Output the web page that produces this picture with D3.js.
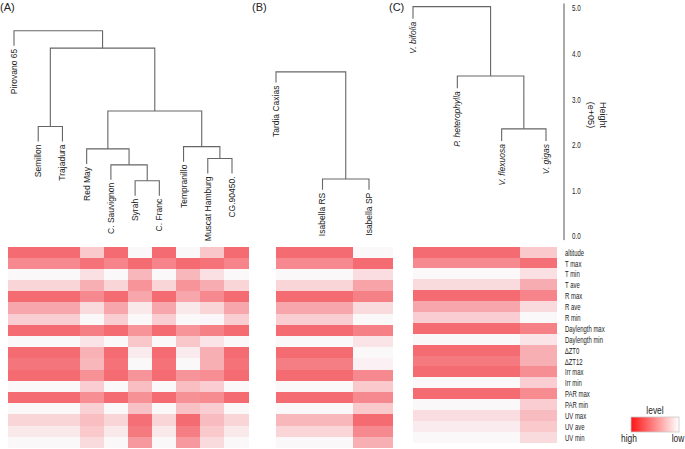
<!DOCTYPE html>
<html><head><meta charset="utf-8">
<script src="https://cdn.jsdelivr.net/npm/d3@7"></script>
<style>
html,body{margin:0;padding:0;background:#fff;}
svg{display:block;}
text{font-family:"Liberation Sans",Arial,sans-serif;fill:#222;}
</style></head>
<body>
<svg id="chart" width="685" height="449"></svg>
<script>
// ---------- DATA ----------
const rowLabels = ["altitude","T max","T min","T ave","R max","R ave","R min","Daylength max","Daylength min","\u2206ZT0","\u2206ZT12","Irr max","Irr min","PAR max","PAR min","UV max","UV ave","UV min"];

// Panel A dendrogram (hclust style: negative = leaf index, positive = earlier merge)
const leavesA = ["Pirovano  65","Semillon","Trajadura","Red May","C. Sauvignon","Syrah","C. Franc","Tempranillo","Muscat Hamburg","CG.90450."];
const mergeA = [[-6,-7],[-5,1],[-9,-10],[-4,2],[-8,3],[-2,-3],[4,5],[6,7],[-1,8]];
const heightA = [1.21,1.56,1.70,1.91,1.96,2.40,2.74,4.12,4.50];

const leavesB = ["Tardia  Caxias","Isabella RS","Isabella SP"];
const mergeB = [[-2,-3],[-1,1]];
const heightB = [1.25,3.60];

const leavesC = ["V. bifolia","P. heterophylla","V. flexuosa","V. gigas"];
const mergeC = [[-3,-4],[-2,1],[-1,2]];
const heightC = [2.35,3.51,5.03];

const heightTicks = [0,1,2,3,4,5];

// heat levels (1 = high, 0 = low), one row per variable, one value per cultivar
const heatA = [
 [.95,.95,.95,.33,.95,.02,.95,.02,.35,.95],
 [.75,.75,.75,.90,.78,.95,.78,.95,.90,.78],
 [.02,.02,.02,.18,.02,.45,.02,.45,.18,.02],
 [.25,.25,.25,.50,.25,.68,.25,.68,.52,.25],
 [.95,.95,.95,.75,.95,.55,.95,.55,.75,.95],
 [.55,.55,.55,.22,.55,.12,.55,.12,.25,.55],
 [.30,.30,.30,.02,.30,.02,.30,.02,.03,.30],
 [.95,.95,.95,.82,.95,.68,.95,.68,.80,.95],
 [.02,.02,.02,.15,.02,.35,.02,.35,.15,.02],
 [.95,.95,.95,.48,.95,.10,.95,.10,.50,.95],
 [.88,.88,.88,.45,.90,.02,.90,.02,.50,.90],
 [.95,.95,.95,.70,.95,.68,.95,.68,.72,.95],
 [.02,.02,.02,.30,.02,.40,.02,.40,.30,.02],
 [.95,.95,.95,.72,.95,.70,.95,.70,.74,.95],
 [.02,.02,.02,.28,.02,.38,.02,.38,.30,.02],
 [.25,.25,.25,.40,.25,.92,.25,.95,.42,.25],
 [.12,.12,.12,.33,.12,.85,.12,.82,.33,.12],
 [.02,.02,.02,.22,.02,.65,.02,.65,.22,.02]
];
const heatB = [
 [.95,.95,.02],[.75,.75,.95],[.02,.02,.20],[.25,.25,.58],[.95,.95,.80],[.55,.55,.22],
 [.30,.30,.02],[.95,.95,.80],[.02,.02,.15],[.95,.95,.02],[.82,.82,.07],[.95,.95,.75],
 [.02,.02,.33],[.95,.95,.75],[.02,.02,.33],[.45,.45,.95],[.25,.25,.75],[.02,.02,.50]
];
const heatC = [
 [.95,.95,.95,.33],[.75,.75,.75,.92],[.02,.02,.02,.18],[.22,.22,.22,.52],[.95,.95,.95,.78],[.55,.55,.55,.22],
 [.30,.30,.30,.02],[.95,.95,.95,.80],[.02,.02,.02,.15],[.95,.95,.95,.50],[.85,.85,.85,.50],[.95,.95,.95,.72],
 [.02,.02,.02,.30],[.95,.95,.95,.74],[.02,.02,.02,.30],[.20,.20,.20,.42],[.10,.10,.10,.33],[.02,.02,.02,.22]
];

// ---------- DRAW ----------
const svg = d3.select("#chart");
const y = d3.scaleLinear().domain([0,5]).range([236,8]);
const heat = d3.scaleLinear().domain([0,1]).range(["#fbfbfd","#f4636a"]).interpolate(d3.interpolateRgb);
const SX = 0.7; // horizontal squeeze of horizontal text

function dendro(leaves, merge, heights, x0, x1, italic){
  const xs = d3.scalePoint().domain(leaves).range([x0,x1]);
  const hang = 0.1*(d3.max(heights)-d3.min(heights));
  const g = svg.append("g");
  const pos = [];
  const childInfo = (c, parentH) => c < 0
      ? {x: xs(leaves[-c-1]), top: parentH - hang, leaf: -c-1}
      : {x: pos[c-1].x, top: pos[c-1].h};
  const lines = [];
  const leafEnds = [];
  merge.forEach((m,i) => {
    const h = heights[i];
    const a = childInfo(m[0],h), b = childInfo(m[1],h);
    pos.push({x:(a.x+b.x)/2, h});
    lines.push([[a.x,y(a.top)],[a.x,y(h)],[b.x,y(h)],[b.x,y(b.top)]]);
    [a,b].forEach(c => { if (c.leaf !== undefined) leafEnds.push(c); });
  });
  g.selectAll("path").data(lines).join("path")
    .attr("d", d3.line())
    .attr("fill","none").attr("stroke","#666").attr("stroke-width",1.1);
  g.selectAll("text").data(leafEnds).join("text")
    .attr("transform", d => `translate(${d.x},${y(d.top)+3}) rotate(-90)`)
    .attr("text-anchor","end").attr("dy","0.35em")
    .style("font-size","8.5px")
    .style("font-style", italic ? "italic" : "normal")
    .text(d => leaves[d.leaf]);
}
dendro(leavesA, mergeA, heightA, 14, 232, false);
dendro(leavesB, mergeB, heightB, 276, 369, false);
dendro(leavesC, mergeC, heightC, 413, 546, true);

// heatmaps
function heatmap(data, leaves, x0, x1, y0, y1){
  const xb = d3.scaleBand().domain(leaves).range([x0,x1]);
  const yb = d3.scaleBand().domain(rowLabels).range([y0,y1]);
  const g = svg.append("g").attr("shape-rendering","crispEdges");
  data.forEach((row,ri) => {
    g.selectAll(null).data(row).join("rect")
      .attr("x",(d,ci)=>xb(leaves[ci])).attr("y",yb(rowLabels[ri]))
      .attr("width",xb.bandwidth()+0.5).attr("height",yb.bandwidth())
      .attr("fill",d=>heat(d));
  });
  return yb;
}
heatmap(heatA, leavesA, 8, 248, 246.5, 448);
heatmap(heatB, leavesB, 276, 392, 246.5, 448);
const ybC = heatmap(heatC, leavesC, 413, 556, 246.7, 442.7);

// row labels
svg.append("g").selectAll("text").data(rowLabels).join("text")
  .attr("transform", d => `translate(565,${ybC(d)+ybC.bandwidth()/2+0.5}) scale(${SX},1)`)
  .attr("dy","0.35em").style("font-size","8.5px").text(d=>d);

// height axis
const axisG = svg.append("g").attr("transform","translate(564,0)")
  .call(d3.axisRight(y).tickValues(heightTicks).tickFormat(d3.format(".1f")).tickSize(0).tickPadding(8));
axisG.select(".domain").remove();
axisG.selectAll("text").style("font-size","9px").style("font-family","'Liberation Sans',Arial,sans-serif")
  .attr("fill","#222").attr("x",8/SX).attr("transform",`scale(${SX},1)`);
svg.append("line").attr("x1",564).attr("x2",564).attr("y1",y(5.1)).attr("y2",y(-0.09))
  .attr("stroke","#555").attr("stroke-width",1);
svg.append("text").attr("transform","translate(600,115) rotate(90)").attr("text-anchor","middle")
  .style("font-size","9px").text("Height");
svg.append("text").attr("transform","translate(588,115) rotate(90)").attr("text-anchor","middle")
  .style("font-size","9px").text("(e+05)");

// panel letters
[["(A)",0],["(B)",252],["(C)",389]].forEach(([t,x]) => {
  svg.append("text").attr("x",x).attr("y",11).style("font-size","11px").text(t);
});

// legend
const defs = svg.append("defs");
const grad = defs.append("linearGradient").attr("id","lg");
grad.append("stop").attr("offset","0%").attr("stop-color","#ff1414");
grad.append("stop").attr("offset","100%").attr("stop-color","#ffffff");
svg.append("rect").attr("x",631).attr("y",417).attr("width",48).attr("height",15)
  .attr("fill","url(#lg)").attr("stroke","#c8c8c8").attr("stroke-width",0.8);
[["level",655,414],["high",629,442],["low",678,442]].forEach(([t,x,yy]) => {
  svg.append("text").attr("transform",`translate(${x},${yy}) scale(0.8,1)`)
    .attr("text-anchor","middle").style("font-size","10.5px").text(t);
});
</script>
</body></html>
